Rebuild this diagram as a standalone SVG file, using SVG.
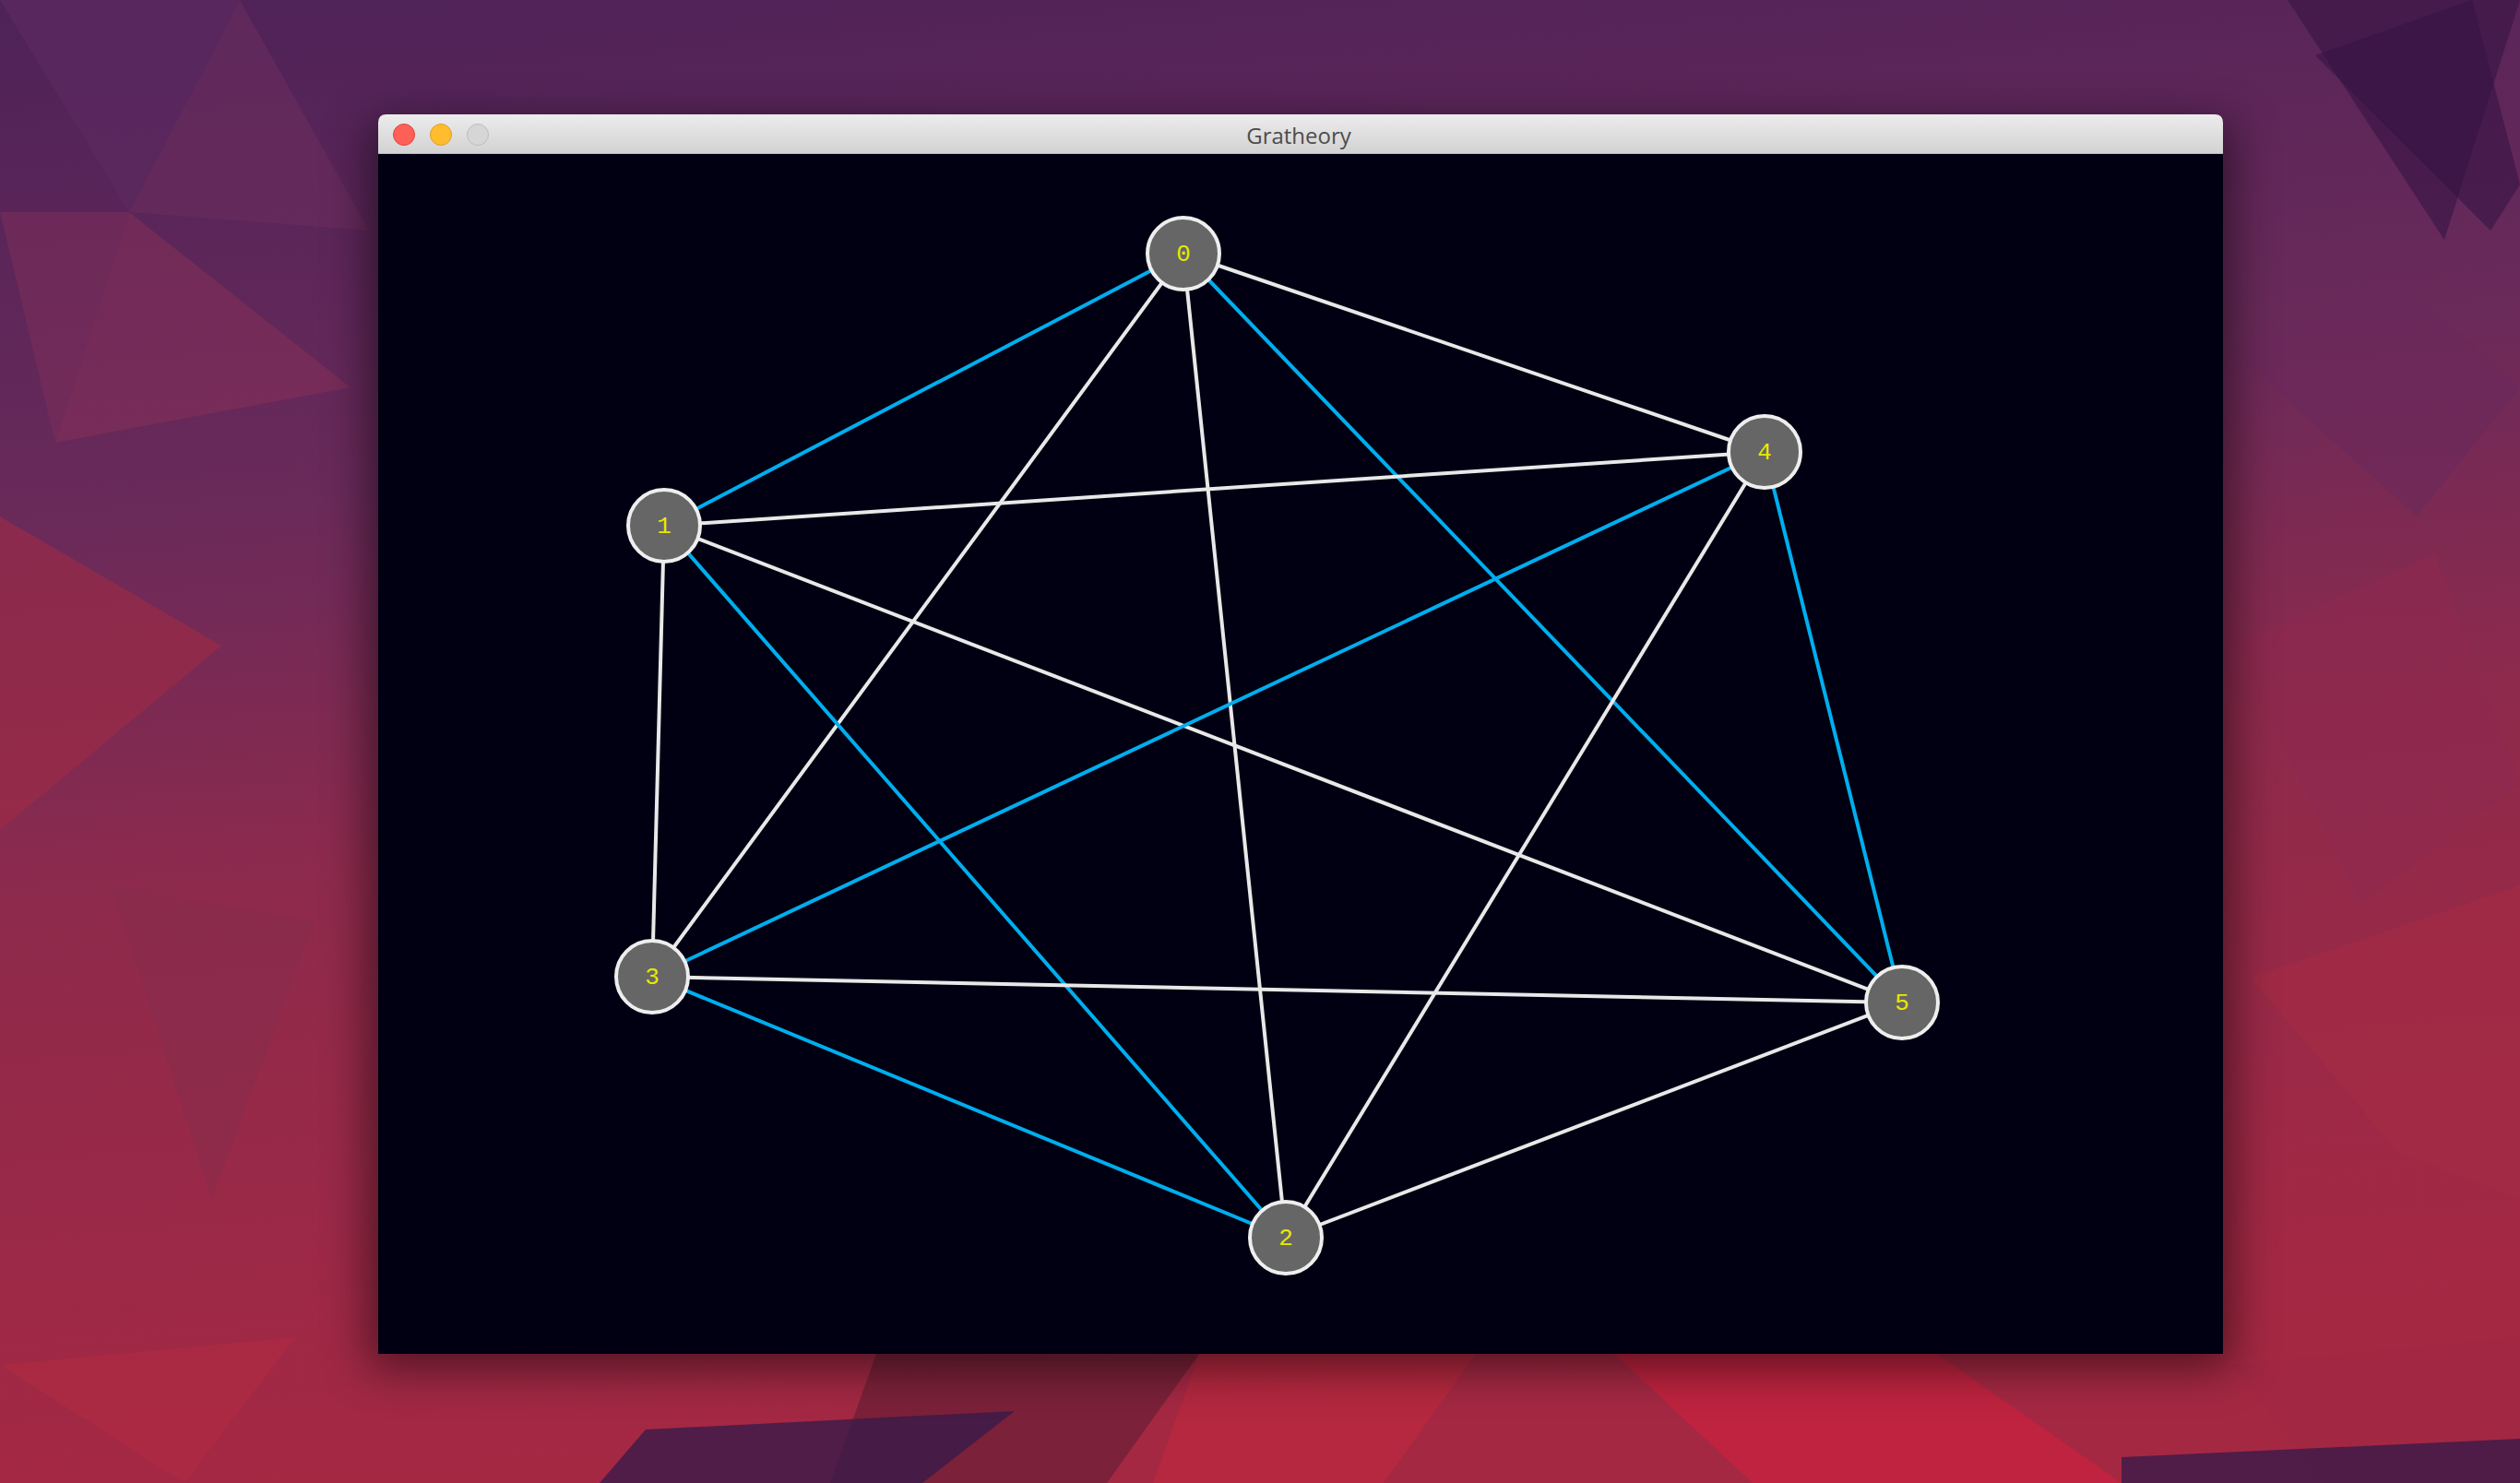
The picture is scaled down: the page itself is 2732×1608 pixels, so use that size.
<svg xmlns="http://www.w3.org/2000/svg" width="2732" height="1608" viewBox="0 0 2732 1608">
<defs>
<linearGradient id="bg" x1="0" y1="0" x2="0.15" y2="1">
<stop offset="0" stop-color="#4e2258"/>
<stop offset="0.35" stop-color="#6a2a5a"/>
<stop offset="0.6" stop-color="#8e2a4c"/>
<stop offset="1" stop-color="#a52843"/>
</linearGradient>
<linearGradient id="title" x1="0" y1="0" x2="0" y2="1">
<stop offset="0" stop-color="#ececec"/>
<stop offset="1" stop-color="#d2d2d2"/>
</linearGradient>
<filter id="shadow" x="-10%" y="-10%" width="120%" height="130%">
<feGaussianBlur stdDeviation="25"/>
</filter>
<style>
.edge{stroke-width:4;fill:none}
.w{stroke:#e8e8e8}
.b{stroke:#00aeef}
.node circle{fill:#666666;stroke:#eeeeee;stroke-width:4}
.node text{fill:#e8e800;font-family:"Liberation Mono",monospace;font-size:26px;text-anchor:middle;dominant-baseline:central}
.tri{stroke:none}
</style>
</defs>
<rect width="2732" height="1608" fill="url(#bg)"/>
<g class="tri">
<polygon points="0,0 260,0 140,230" fill="#5b2a60" opacity="0.7"/>
<polygon points="140,230 260,0 400,250" fill="#6b2d5e" opacity="0.6"/>
<polygon points="0,230 140,230 60,480" fill="#7a2d5a" opacity="0.6"/>
<polygon points="60,480 140,230 380,420" fill="#8a2f58" opacity="0.5"/>
<polygon points="0,560 240,700 0,900" fill="#a02b45" opacity="0.6"/>
<polygon points="120,960 340,1000 230,1300" fill="#862c4c" opacity="0.5"/>
<polygon points="0,1480 320,1450 200,1608" fill="#b02a42" opacity="0.6"/>
<polygon points="2480,0 2732,0 2650,260" fill="#3c1746" opacity="0.7"/>
<polygon points="2510,60 2680,0 2732,200 2700,250" fill="#361442" opacity="0.6"/>
<polygon points="2420,380 2600,300 2732,420 2620,560" fill="#6a2a5c" opacity="0.6"/>
<polygon points="2420,700 2640,600 2732,850 2560,980" fill="#8d2a4e" opacity="0.6"/>
<polygon points="2440,1060 2732,960 2732,1300 2600,1250" fill="#a52c45" opacity="0.6"/>
<polygon points="2420,1480 2732,1450 2732,1608 2520,1608" fill="#a02644" opacity="0.6"/>
<polygon points="950,1468 1300,1468 1200,1608 900,1608" fill="#6a1e34" opacity="0.7"/>
<polygon points="1300,1468 1600,1468 1500,1608 1250,1608" fill="#c0283e" opacity="0.6"/>
<polygon points="1750,1468 2100,1468 2300,1608 1900,1608" fill="#d0203e" opacity="0.6"/>
<polygon points="700,1550 1100,1530 1000,1608 650,1608" fill="#3a1a48" opacity="0.8"/>
<polygon points="2300,1580 2732,1560 2732,1608 2300,1608" fill="#3a1a48" opacity="0.8"/>
</g>
<rect x="400" y="134" width="2020" height="1350" fill="#000" opacity="0.5" filter="url(#shadow)"/>
<g id="window">
<path d="M410,167 V133 Q410,124 419,124 H2401 Q2410,124 2410,133 V167 Z" fill="url(#title)"/>
<line x1="410" y1="166.5" x2="2410" y2="166.5" stroke="#b8b8b8" stroke-width="1"/>
<circle cx="438" cy="146" r="11.5" fill="#fe5f57" stroke="#e0443e" stroke-width="1"/>
<circle cx="478" cy="146" r="11.5" fill="#febc2e" stroke="#dea123" stroke-width="1"/>
<circle cx="518" cy="146" r="11.5" fill="#d6d6d6" stroke="#bdbdbd" stroke-width="1"/>
<text x="1408" y="146" font-family="'Open Sans','Liberation Sans',sans-serif" font-size="24" fill="#4d4d4d" text-anchor="middle" dominant-baseline="central">Gratheory</text>
<rect x="410" y="167" width="2000" height="1301" fill="#000012"/>
</g>
<g id="edges">
<line class="edge b" x1="1283" y1="275" x2="720" y2="570"/>
<line class="edge w" x1="1283" y1="275" x2="707" y2="1059"/>
<line class="edge w" x1="1283" y1="275" x2="1394" y2="1342"/>
<line class="edge w" x1="1283" y1="275" x2="1913" y2="490"/>
<line class="edge b" x1="1283" y1="275" x2="2062" y2="1087"/>
<line class="edge w" x1="720" y1="570" x2="1913" y2="490"/>
<line class="edge w" x1="720" y1="570" x2="2062" y2="1087"/>
<line class="edge w" x1="720" y1="570" x2="707" y2="1059"/>
<line class="edge b" x1="720" y1="570" x2="1394" y2="1342"/>
<line class="edge b" x1="1913" y1="490" x2="707" y2="1059"/>
<line class="edge w" x1="1913" y1="490" x2="1394" y2="1342"/>
<line class="edge b" x1="1913" y1="490" x2="2062" y2="1087"/>
<line class="edge w" x1="707" y1="1059" x2="2062" y2="1087"/>
<line class="edge b" x1="707" y1="1059" x2="1394" y2="1342"/>
<line class="edge w" x1="1394" y1="1342" x2="2062" y2="1087"/>
</g>
<g id="node0" class="node"><circle cx="1283" cy="275" r="39"/><text x="1283" y="276">0</text></g>
<g id="node1" class="node"><circle cx="720" cy="570" r="39"/><text x="720" y="571">1</text></g>
<g id="node2" class="node"><circle cx="1394" cy="1342" r="39"/><text x="1394" y="1343">2</text></g>
<g id="node3" class="node"><circle cx="707" cy="1059" r="39"/><text x="707" y="1060">3</text></g>
<g id="node4" class="node"><circle cx="1913" cy="490" r="39"/><text x="1913" y="491">4</text></g>
<g id="node5" class="node"><circle cx="2062" cy="1087" r="39"/><text x="2062" y="1088">5</text></g>
</svg>
